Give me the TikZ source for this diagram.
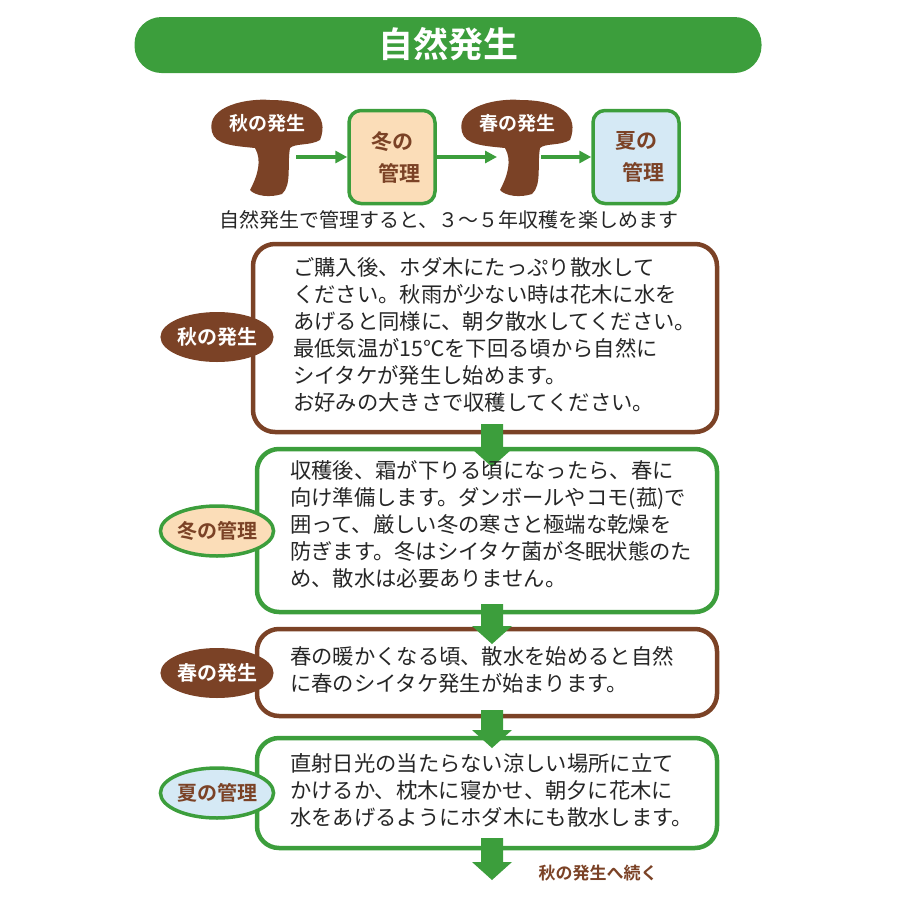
\documentclass[tikz,border=0pt]{standalone}
\usepackage{fontspec}
\setmainfont{Noto Sans CJK JP}
\newfontfamily\bfj{Noto Sans CJK JP Bold}
\usetikzlibrary{shapes.geometric,arrows.meta}
\definecolor{gr}{HTML}{3C9E3C}
\definecolor{br}{HTML}{7B4226}
\definecolor{peach}{HTML}{FBDDB8}
\definecolor{lblue}{HTML}{D5E9F5}
\tikzset{
 box/.style={rounded corners=22pt,line width=4.5pt,fill=white},
 lab/.style={ellipse,minimum width=104pt,minimum height=50pt,inner sep=0pt,font=\bfj\fontsize{20}{20}\selectfont},
 body/.style={anchor=north west,align=left,inner sep=0pt,font=\fontsize{21.3}{27}\selectfont,text=black!85},
 garr/.style={-{Triangle[length=12pt,width=12pt]},line width=3.5pt,gr},
 down/.style={fill=gr},
 mush/.style={fill=br},
 sq/.style={rounded corners=12pt,line width=3.5pt,draw=gr,minimum width=86pt,minimum height=93pt,align=center,text=br,font=\bfj\fontsize{21}{32}\selectfont}
}
\begin{document}
\begin{tikzpicture}[x=1pt,y=-1pt]
\useasboundingbox (0,0) rectangle (900,900);
\node[fill=gr,rounded corners=27pt,minimum width=627pt,minimum height=56pt] (title) at (448,45) {};
\node[text=white,font=\bfj\fontsize{35}{35}\selectfont] (tt) at (448,44) {自然発生};
% mushrooms
\foreach \mx/\nm/\txt in {0/m1/秋の発生, 250/m2/春の発生}{
 \begin{scope}[xshift=\mx pt]
 \path[mush] (212,132) .. controls (205,105) and (250,98) .. (270,100)
   .. controls (310,100) and (330,115) .. (320,140)
   .. controls (310,146) and (295,143) .. (290,148)
   .. controls (287,165) and (292,185) .. (282,194)
   .. controls (270,198) and (255,196) .. (250,190)
   .. controls (258,175) and (262,160) .. (255,148)
   .. controls (235,146) and (215,145) .. (212,132) -- cycle;
 \end{scope}
 \node[text=white,font=\bfj\fontsize{19}{19}\selectfont] (\nm) at (267+\mx,123) {\txt};
}
\node[sq,fill=peach] (s1) at (392,157) {冬の\\\hspace*{14pt}管理};
\node[sq,fill=lblue] (s2) at (636,157) {夏の\\\hspace*{14pt}管理};
\coordinate (a1) at (296,157); \coordinate (a2) at (541,157); \coordinate (a3) at (497,157);
\draw[garr] (a1) -- (s1.west);
\draw[garr] (s1.east) -- (a3);
\draw[garr] (a2) -- (s2.west);
\node[font=\fontsize{20}{20}\selectfont,text=black!85] (cap) at (449,220) {自然発生で管理すると、３～５年収穫を楽しめます};
% boxes
\draw[box,draw=br] (253,244) rectangle (717,432);
\draw[box,draw=gr] (257,449) rectangle (717,612);
\draw[box,draw=br] (257,629) rectangle (717,716);
\draw[box,draw=gr] (257,738) rectangle (717,848);
% down arrows
\foreach \ya/\yb in {424/467, 604/644, 710/748, 838/880}{
 \path[down] (481,\ya) -- (503,\ya) -- (503,\yb-18) -- (512,\yb-18) -- (492,\yb) -- (472,\yb-18) -- (481,\yb-18) -- cycle;
}
\node[body] (t1) at (293,257) {ご購入後、ホダ木にたっぷり散水して\\ください。秋雨が少ない時は花木に水を\\あげると同様に、朝夕散水してください。\\最低気温が15℃を下回る頃から自然に\\シイタケが発生し始めます。\\お好みの大きさで収穫してください。};
\node[body] (t2) at (290,460) {収穫後、霜が下りる頃になったら、春に\\向け準備します。ダンボールやコモ(菰)で\\囲って、厳しい冬の寒さと極端な乾燥を\\防ぎます。冬はシイタケ菌が冬眠状態のた\\め、散水は必要ありません。};
\node[body] (t3) at (290,646) {春の暖かくなる頃、散水を始めると自然\\に春のシイタケ発生が始まります。};
\node[body] (t4) at (290,753) {直射日光の当たらない涼しい場所に立て\\かけるか、枕木に寝かせ、朝夕に花木に\\水をあげるようにホダ木にも散水します。};
\node[lab,fill=br,text=white] (l1) at (217,337) {秋の発生};
\node[lab,fill=peach,draw=gr,line width=3.5pt,text=br] (l2) at (217,531) {冬の管理};
\node[lab,fill=br,text=white] (l3) at (217,673) {春の発生};
\node[lab,fill=lblue,draw=gr,line width=3.5pt,text=br] (l4) at (217,793) {夏の管理};
\node[text=br,font=\bfj\fontsize{17}{17}\selectfont] (end) at (598,873) {秋の発生へ続く};
\end{tikzpicture}
\end{document}
